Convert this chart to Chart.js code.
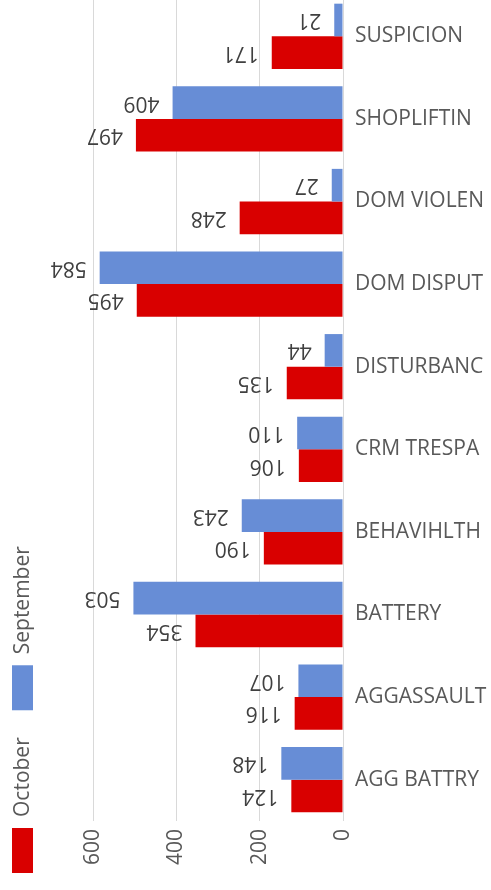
<!DOCTYPE html>
<html>
<head>
<meta charset="utf-8">
<title>Incidents by type - September / October</title>
<script src="https://cdn.jsdelivr.net/npm/chart.js@4.4.0/dist/chart.umd.min.js"></script>
<style>
    html, body { margin: 0; padding: 0; background: #fff; overflow: hidden; }
    #wrap { position: relative; width: 491px; height: 895px; margin-top: -5px; }
</style>
</head>
<body>
<div id="wrap"><canvas id="incidentsChart"></canvas></div>
<script>
'use strict';

// Chart data
var categories = ['SUSPICION', 'SHOPLIFTIN', 'DOM VIOLEN', 'DOM DISPUT', 'DISTURBANC',
    'CRM TRESPA', 'BEHAVIHLTH', 'BATTERY', 'AGGASSAULT', 'AGG BATTRY'];
var septemberValues = [21, 409, 27, 584, 44, 110, 243, 503, 107, 148];
var octoberValues = [171, 497, 248, 495, 135, 106, 190, 354, 116, 124];
var xTicks = [0, 200, 400, 600];

var FONT = '"Open Sans", "DejaVu Sans", sans-serif';
var TEXT_GREY = '#595959';

/**
 * Draw upside-down value labels just past the end of each bar
 */
var upsideDownLabels = {
    id: 'upsideDownLabels',
    afterDatasetsDraw: function(chart) {
        var ctx = chart.ctx;
        ctx.save();
        ctx.font = '21px ' + FONT;
        ctx.fillStyle = '#404040';
        ctx.textAlign = 'left';
        ctx.textBaseline = 'middle';
        chart.data.datasets.forEach(function(ds, i) {
            chart.getDatasetMeta(i).data.forEach(function(bar, j) {
                ctx.save();
                ctx.translate(bar.x - 13, bar.y);
                ctx.rotate(Math.PI);
                ctx.fillText(String(ds.data[j]), 0, 0);
                ctx.restore();
            });
        });
        ctx.restore();
    }
};

/**
 * Legend turned on its side, running bottom to top on the left
 */
var sideLegend = {
    id: 'sideLegend',
    afterDraw: function(chart) {
        var ctx = chart.ctx;
        var pos = 0;
        ctx.save();
        ctx.translate(12, 878);
        ctx.rotate(-Math.PI / 2);
        ctx.font = '21px ' + FONT;
        ctx.textBaseline = 'middle';
        ctx.textAlign = 'left';
        chart.data.datasets.slice().reverse().forEach(function(ds) {
            ctx.fillStyle = ds.backgroundColor;
            ctx.fillRect(pos, 0, 45, 21);
            pos += 45 + 11;
            ctx.fillStyle = TEXT_GREY;
            ctx.fillText(ds.label, pos, 11);
            pos += ctx.measureText(ds.label).width + 27;
        });
        ctx.restore();
    }
};

var ctx = document.getElementById('incidentsChart').getContext('2d');

new Chart(ctx, {
    type: 'bar',
    data: {
        labels: categories,
        datasets: [{
            label: 'September',
            data: septemberValues,
            backgroundColor: '#678dd6'
        }, {
            label: 'October',
            data: octoberValues,
            backgroundColor: '#d90000'
        }]
    },
    options: {
        indexAxis: 'y',
        responsive: true,
        maintainAspectRatio: false,
        animation: false,
        layout: {
            padding: { left: 93, top: 0, right: 0, bottom: 0 }
        },
        datasets: {
            bar: {
                categoryPercentage: 0.79,
                barPercentage: 1
            }
        },
        scales: {
            x: {
                reverse: true,
                min: 0,
                max: 600,
                afterBuildTicks: function(axis) {
                    axis.ticks = xTicks.map(function(v) { return { value: v }; });
                },
                afterFit: function(axis) {
                    axis.height = 69;
                    axis.paddingLeft = 0;
                    axis.paddingRight = 0;
                },
                grid: {
                    color: '#d9d9d9',
                    drawTicks: false
                },
                border: { display: false },
                ticks: {
                    minRotation: 90,
                    maxRotation: 90,
                    padding: 8,
                    color: TEXT_GREY,
                    font: { family: FONT, size: 21 }
                }
            },
            y: {
                position: 'right',
                afterFit: function(axis) {
                    axis.width = 148;
                    axis.paddingTop = 0;
                    axis.paddingBottom = 0;
                },
                grid: { display: false, drawTicks: false },
                border: { display: false },
                ticks: {
                    padding: 12,
                    color: TEXT_GREY,
                    font: { family: FONT, size: 21 }
                }
            }
        },
        plugins: {
            legend: { display: false },
            tooltip: { enabled: false }
        }
    },
    plugins: [upsideDownLabels, sideLegend]
});
</script>
</body>
</html>
